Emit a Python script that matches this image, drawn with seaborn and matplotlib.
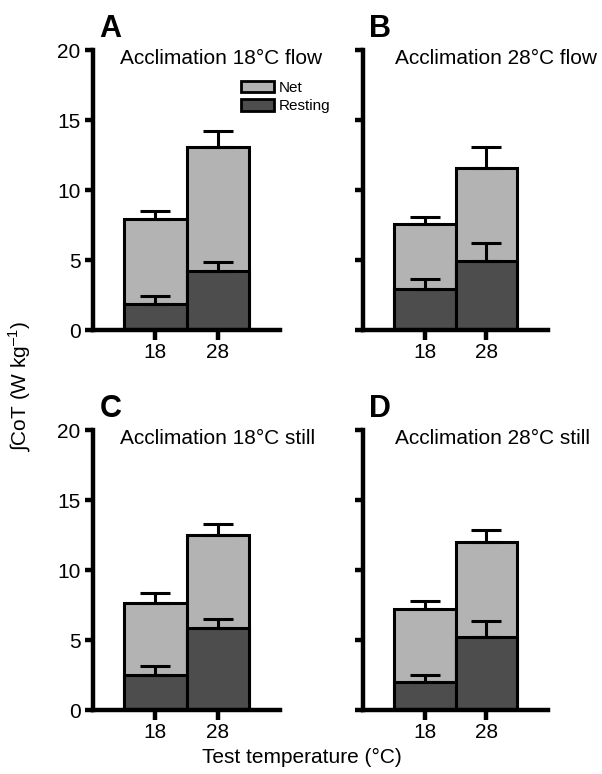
import matplotlib
matplotlib.use("Agg")
import matplotlib.pyplot as plt
from matplotlib.patches import Patch
import numpy as np
import pandas as pd
import seaborn as sns

# ---- data ----
test_temps = ["18", "28"]
panel_letters = ["A", "B", "C", "D"]
panel_titles = ["Acclimation 18°C flow", "Acclimation 28°C flow",
                "Acclimation 18°C still", "Acclimation 28°C still"]

total_A = [7.93, 13.05]
total_A_err = [0.59, 1.15]
rest_A = [1.86, 4.19]
rest_A_err = [0.57, 0.64]

total_B = [7.57, 11.60]
total_B_err = [0.48, 1.47]
rest_B = [2.90, 4.95]
rest_B_err = [0.72, 1.24]

total_C = [7.62, 12.50]
total_C_err = [0.76, 0.79]
rest_C = [2.50, 5.83]
rest_C_err = [0.64, 0.69]

total_D = [7.19, 11.98]
total_D_err = [0.60, 0.88]
rest_D = [1.98, 5.19]
rest_D_err = [0.50, 1.15]

y_ticks = [0, 5, 10, 15, 20]
legend_labels = ["Net", "Resting"]
y_label = "∫CoT (W kg$^{\\mathregular{–1}}$)"
x_label = "Test temperature (°C)"

# ---- style ----
sns.set_style("ticks", {"axes.edgecolor": "black", "text.color": "black",
                        "xtick.color": "black", "ytick.color": "black",
                        "axes.labelcolor": "black"})
plt.rcParams["font.family"] = ["Liberation Sans", "DejaVu Sans"]
plt.rcParams["mathtext.fontset"] = "custom"
plt.rcParams["mathtext.rm"] = "Liberation Sans"

NET_COLOR = "#b3b3b3"
REST_COLOR = "#4d4d4d"

fig = plt.figure(figsize=(6.02, 7.74), dpi=100)

W, H = 602, 774
def rect(l, r, t, b):
    return [l / W, 1 - b / H, (r - l) / W, (b - t) / H]

axes_rects = [rect(93, 280, 50, 330), rect(363, 548, 50, 330),
              rect(93, 280, 430, 710), rect(363, 548, 430, 710)]

totals = [total_A, total_B, total_C, total_D]
totals_err = [total_A_err, total_B_err, total_C_err, total_D_err]
rests = [rest_A, rest_B, rest_C, rest_D]
rests_err = [rest_A_err, rest_B_err, rest_C_err, rest_D_err]
title_x = [0.144, 0.173, 0.144, 0.173]

for i in range(4):
    ax = fig.add_axes(axes_rects[i])
    df = pd.DataFrame({"temp": test_temps, "total": totals[i], "rest": rests[i]})
    sns.barplot(data=df, x="temp", y="total", color=NET_COLOR, width=1.0,
                edgecolor="black", linewidth=2.2, saturation=1, ax=ax, zorder=2)
    sns.barplot(data=df, x="temp", y="rest", color=REST_COLOR, width=1.0,
                edgecolor="black", linewidth=2.2, saturation=1, ax=ax, zorder=2)
    xs = np.arange(len(test_temps))
    for vals, errs in ((totals[i], totals_err[i]), (rests[i], rests_err[i])):
        ax.errorbar(xs, vals, yerr=[np.zeros(len(errs)), errs], fmt="none",
                    ecolor="black", elinewidth=2.2, capsize=10.8, capthick=2.2,
                    zorder=3)
    ax.set_xlim(-1.0, 2.0)
    ax.set_ylim(0, 20)
    ax.set_yticks(y_ticks)
    ax.set_xlabel("")
    ax.set_ylabel("")
    sns.despine(ax=ax)
    for s in ("left", "bottom"):
        ax.spines[s].set_linewidth(3.2)
        ax.spines[s].set_color("black")
    ax.tick_params(axis="y", length=6, width=3.2, labelsize=15, pad=3,
                   colors="black")
    ax.tick_params(axis="x", length=7, width=3.2, labelsize=15, pad=2,
                   colors="black")
    if i % 2 == 1:
        ax.set_yticklabels([])
    ax.text(title_x[i], 1.005, panel_titles[i], transform=ax.transAxes,
            ha="left", va="top", fontsize=15, color="black")
    ax.text(0.035, 1.045, panel_letters[i], transform=ax.transAxes,
            ha="left", va="baseline", fontsize=22, fontweight="bold",
            color="black")
    if i == 0:
        handles = [Patch(facecolor=NET_COLOR, edgecolor="black", linewidth=2),
                   Patch(facecolor=REST_COLOR, edgecolor="black", linewidth=2)]
        ax.legend(handles, legend_labels, loc="upper left",
                  bbox_to_anchor=(0.79, 0.89), frameon=False, fontsize=11,
                  handlelength=2.2, handleheight=0.75, handletextpad=0.3,
                  labelspacing=0.3, borderpad=0, borderaxespad=0)

fig.text(20 / W, 1 - 386 / H, y_label, rotation=90, ha="center", va="center",
         fontsize=15, color="black")
fig.text(302 / W, 1 - 757 / H, x_label, ha="center", va="center", fontsize=15,
         color="black")

fig.savefig("out.png", dpi=100)
